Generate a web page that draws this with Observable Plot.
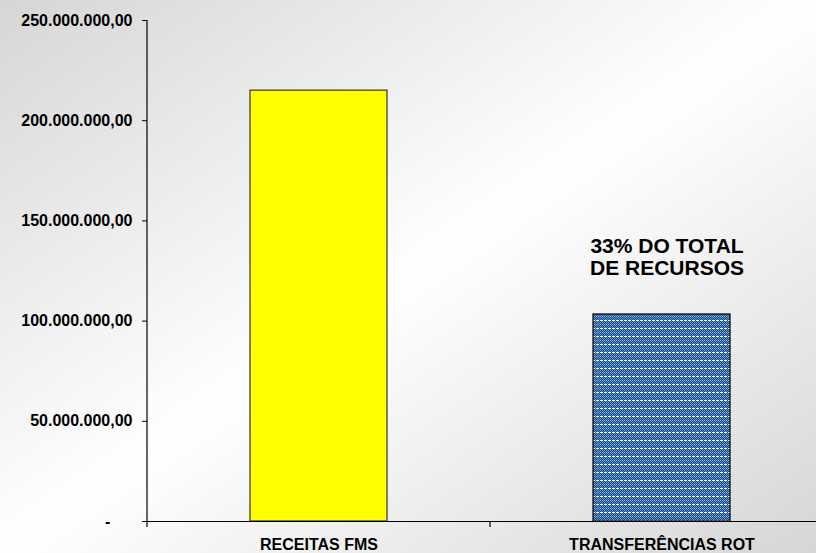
<!DOCTYPE html>
<html>
<head>
<meta charset="utf-8">
<script src="https://cdn.jsdelivr.net/npm/d3@7"></script>
<script src="https://cdn.jsdelivr.net/npm/@observablehq/plot@0.6"></script>
<style>
  html, body { margin: 0; padding: 0; }
  body {
    width: 816px; height: 553px; overflow: hidden;
    background: linear-gradient(to bottom right, #d6d6d6 0%, #ffffff 50%, #d6d6d6 100%);
    font-family: "Liberation Sans", Arial, sans-serif;
  }
</style>
</head>
<body>
<svg width="0" height="0" style="position:absolute">
  <defs>
    <pattern id="bluePattern" width="4" height="8" patternUnits="userSpaceOnUse">
      <rect width="4" height="8" fill="#1c4c86"/>
      <rect x="0" y="0" width="3" height="1" fill="#ffffff"/>
      <rect x="1" y="1" width="1" height="1" fill="#5f8fc9"/>
      <rect x="3" y="1" width="1" height="1" fill="#5f8fc9"/>
      <rect x="0" y="2" width="1" height="1" fill="#5f8fc9"/>
      <rect x="2" y="2" width="1" height="1" fill="#5f8fc9"/>
      <rect x="1" y="3" width="1" height="1" fill="#5f8fc9"/>
      <rect x="3" y="3" width="1" height="1" fill="#5f8fc9"/>
      <rect x="0" y="4" width="1" height="1" fill="#9fc0e6"/>
      <rect x="2" y="4" width="1" height="1" fill="#9fc0e6"/>
      <rect x="1" y="5" width="1" height="1" fill="#5f8fc9"/>
      <rect x="3" y="5" width="1" height="1" fill="#5f8fc9"/>
      <rect x="0" y="6" width="1" height="1" fill="#5f8fc9"/>
      <rect x="2" y="6" width="1" height="1" fill="#5f8fc9"/>
      <rect x="1" y="7" width="1" height="1" fill="#5f8fc9"/>
      <rect x="3" y="7" width="1" height="1" fill="#5f8fc9"/>
    </pattern>
  </defs>
</svg>
<script>
// ---- data ----
const categories = ["RECEITAS FMS", "TRANSFERÊNCIAS ROT"];
const values = [215000000, 103300000];
const barFills = ["#ffff00", "url(#bluePattern)"];
const yTicks = [0, 50000000, 100000000, 150000000, 200000000, 250000000];
const annotationCategory = ["TRANSFERÊNCIAS ROT"];
const annotationValue = [141700000];
const annotationText = ["33% DO TOTAL\nDE RECURSOS"];

const rows = categories.map((c, i) => ({category: c, value: values[i], fill: barFills[i]}));
const notes = annotationCategory.map((c, i) => ({category: c, value: annotationValue[i], text: annotationText[i]}));

const br = d3.formatLocale({decimal: ",", thousands: ".", grouping: [3], currency: ["R$", ""]});
const fmt = br.format(",.2f");
const yFormat = d => d === 0 ? "-\u00a0\u00a0\u00a0\u00a0\u00a0" : fmt(d);

const plot = Plot.plot({
  width: 816,
  height: 553,
  marginLeft: 147,
  marginRight: 0,
  marginTop: 20,
  marginBottom: 32,
  style: {background: "transparent", fontFamily: "'Liberation Sans', Arial, sans-serif", fontSize: "16px", fontWeight: "bold", color: "#000", overflow: "visible"},
  x: {domain: categories, range: [147, 833], paddingInner: 0.6, paddingOuter: 0.3, label: null},
  y: {domain: [0, 250000000], label: null},
  marks: [
    Plot.barY(rows, {x: "category", y: "value", fill: "fill", stroke: d => d.category === categories[0] ? "#333" : "#000", strokeWidth: 1.2}),
    Plot.ruleY([0], {stroke: "#000", strokeWidth: 1}),
    Plot.axisY({ticks: yTicks, tickFormat: yFormat, tickSize: 5, tickPadding: 10, fill: "#000", stroke: "#000", fontSize: 16, fontWeight: "bold"}),
    Plot.axisX({tickSize: 0, tickPadding: 17, fill: "#000", fontSize: 16, fontWeight: "bold"}),
    Plot.text(notes, {x: "category", y: "value", text: "text", lineAnchor: "top", fontSize: 21, fontWeight: "bold", fill: "#000", lineHeight: 1.05, dx: 5})
  ]
});

const svg = d3.select(plot);
const xs = plot.scale("x");
const ys = plot.scale("y");
const y0 = ys.apply(0);
const yTop = ys.apply(250000000);
const step = xs.step, bw = xs.bandwidth;
const boundaries = [xs.range[0]];
categories.forEach((c, i) => { if (i < categories.length - 1) boundaries.push(xs.apply(c) + bw + (step - bw) / 2); });
const g = svg.append("g").attr("stroke", "#000").attr("stroke-width", 1.2);
g.append("line").attr("x1", xs.range[0]).attr("x2", xs.range[0]).attr("y1", yTop).attr("y2", y0 + 6);
boundaries.slice(1).forEach(b => g.append("line").attr("x1", b).attr("x2", b).attr("y1", y0).attr("y2", y0 + 6));

document.body.appendChild(plot);
</script>
</body>
</html>
